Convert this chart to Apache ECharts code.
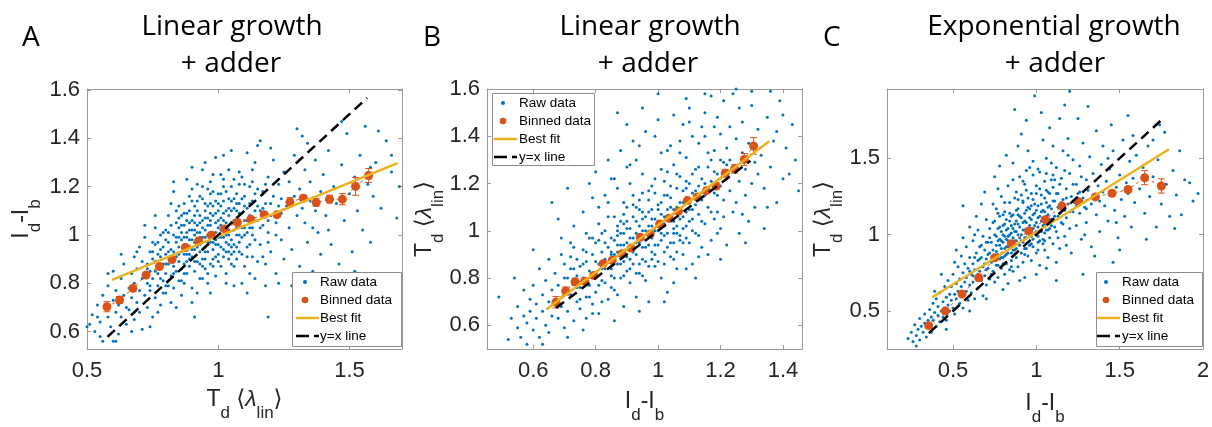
<!DOCTYPE html>
<html><head><meta charset="utf-8">
<script src="https://cdn.jsdelivr.net/npm/echarts@6/dist/echarts.min.js"></script>
<style>html,body{margin:0;padding:0;background:#fff}#c{width:1212px;height:427px}</style>
</head><body><div id="c"></div>
<script>
// ---------- DATA ----------
// Raw data, flat x,y pairs
const rawA = [
0.50,0.62,0.52,0.67,0.53,0.60,0.54,0.71,0.55,0.64,0.56,0.75,0.55,0.58,0.51,0.63,0.54,0.66,0.58,0.84,0.56,0.56,0.61,0.56,
0.57,0.70,0.58,0.66,0.58,0.79,0.59,0.62,0.60,0.73,0.60,0.85,0.61,0.68,0.61,0.77,0.62,0.59,0.62,0.71,0.63,0.82,0.63,0.66,0.64,0.75,0.64,0.88,0.65,0.70,0.65,0.63,0.60,0.56,0.63,0.92,
0.66,0.78,0.66,0.69,0.67,0.84,0.67,0.74,0.68,0.65,0.68,0.91,0.68,0.80,0.69,0.72,0.69,0.86,0.70,0.77,0.70,0.95,0.70,0.68,0.71,0.82,0.71,0.61,0.71,0.89,0.72,0.75,0.72,0.84,0.72,0.99,0.67,0.60,0.69,0.93,0.72,1.04,
0.73,0.80,0.73,0.88,0.73,0.70,0.74,0.93,0.74,0.77,0.74,0.85,0.75,0.66,0.75,0.82,0.75,0.97,0.76,0.89,0.76,0.74,0.76,1.03,0.77,0.84,0.77,0.79,0.77,0.92,0.78,0.71,0.78,0.87,0.78,1.00,0.79,0.81,0.79,0.95,0.79,0.76,0.75,0.90,0.77,0.68,0.78,0.94,0.74,0.62,0.76,1.08,0.79,0.88,
0.80,0.92,0.80,0.84,0.80,1.02,0.80,0.76,0.81,0.88,0.81,0.97,0.81,0.79,0.81,1.08,0.82,0.90,0.82,0.83,0.82,0.94,0.82,0.72,0.83,1.00,0.83,0.87,0.83,0.93,0.83,0.78,0.84,1.05,0.84,0.91,0.84,0.85,0.84,0.97,0.85,0.81,0.85,0.95,0.85,0.89,0.85,1.12,0.86,0.93,0.86,0.86,0.86,1.01,0.86,0.75,0.82,1.13,0.84,0.70,0.80,0.98,0.83,1.18,0.85,1.03,0.86,0.98,0.83,1.22,
0.87,0.96,0.87,0.88,0.87,1.04,0.87,0.80,0.88,0.92,0.88,1.09,0.88,0.99,0.88,0.84,0.89,0.95,0.89,1.02,0.89,0.87,0.89,1.16,0.90,0.91,0.90,0.98,0.90,1.06,0.90,0.78,0.91,0.94,0.91,1.00,0.91,0.85,0.91,1.12,0.92,0.97,0.92,1.04,0.92,0.89,0.92,1.21,0.93,0.93,0.93,1.01,0.93,0.82,0.93,1.08,0.88,1.23,0.90,0.72,0.92,0.76,0.87,1.13,0.89,0.98,0.91,1.05,0.93,0.96,0.90,1.28,0.91,0.66,
0.94,0.99,0.94,1.06,0.94,0.90,0.94,1.15,0.95,0.95,0.95,1.02,0.95,0.86,0.95,1.10,0.96,1.00,0.96,0.93,0.96,1.19,0.96,0.80,0.97,1.04,0.97,0.97,0.97,0.88,0.97,1.13,0.98,1.01,0.98,0.94,0.98,1.25,0.98,1.08,0.99,0.98,0.99,0.91,0.99,1.05,0.99,0.83,1.00,1.03,1.00,0.96,1.00,1.17,1.00,0.89,0.95,1.30,0.97,0.76,0.99,1.32,0.96,1.07,0.98,0.87,1.00,1.10,0.94,0.82,0.97,1.22,0.94,1.27,
1.01,1.02,1.01,0.95,1.01,1.12,1.01,0.87,1.02,1.06,1.02,0.99,1.02,1.20,1.02,0.91,1.03,1.03,1.03,1.10,1.03,0.84,1.03,0.97,1.04,1.08,1.04,1.00,1.04,1.27,1.04,0.93,1.05,1.05,1.05,1.14,1.05,0.88,1.05,0.98,1.06,1.11,1.06,1.02,1.06,0.79,1.06,1.23,1.07,1.07,1.07,0.95,1.07,1.17,1.07,0.90,1.02,1.33,1.05,1.35,1.03,0.80,1.06,0.96,1.04,1.15,1.01,1.25,
1.08,1.04,1.08,1.13,1.08,0.93,1.09,1.09,1.09,0.99,1.09,1.24,1.10,1.06,1.10,0.87,1.10,1.16,1.11,1.01,1.11,1.11,1.11,0.95,1.12,1.08,1.12,1.20,1.12,0.84,1.13,1.03,1.13,1.14,1.13,0.91,1.14,1.10,1.14,0.98,1.14,1.30,1.15,1.06,1.15,0.89,1.15,1.19,1.09,0.80,1.11,1.34,1.13,1.27,1.10,1.00,1.12,1.03,1.15,1.37,1.14,0.82,1.08,1.21,1.11,0.76,
1.16,1.10,1.16,0.96,1.17,1.18,1.17,1.04,1.18,0.88,1.18,1.13,1.19,1.24,1.19,1.01,1.20,1.08,1.20,0.93,1.21,1.16,1.21,1.31,1.22,1.05,1.22,0.84,1.23,1.12,1.23,1.21,1.24,0.98,1.24,1.09,1.25,1.26,1.25,0.90,1.16,1.39,1.18,0.79,1.20,1.36,1.22,1.00,1.24,1.15,1.17,0.91,1.19,1.06,1.23,0.80,1.19,0.66,
1.26,1.12,1.27,1.03,1.27,1.22,1.28,0.94,1.29,1.16,1.29,1.33,1.30,1.08,1.31,0.87,1.31,1.19,1.32,1.41,1.33,1.05,1.33,1.27,1.34,0.97,1.35,1.14,1.35,1.22,1.36,0.85,1.37,1.10,1.37,1.31,1.38,1.01,1.39,1.18,1.39,0.92,1.40,1.25,1.28,0.79,1.30,1.44,1.34,1.38,1.36,1.03,1.32,1.11,1.38,0.76,
1.41,1.08,1.42,1.35,1.43,0.96,1.44,1.20,1.45,1.13,1.46,0.88,1.47,1.29,1.48,1.06,1.49,1.42,1.50,1.17,1.51,0.93,1.52,1.24,1.53,1.10,1.54,1.33,1.55,1.02,1.56,1.45,1.57,1.21,1.58,0.97,1.59,1.16,1.60,1.30,1.62,1.11,1.64,1.39,1.66,1.26,1.68,1.07,1.69,1.20,1.44,0.82,1.52,0.85,1.47,1.47,1.61,1.43,1.66,1.33,1.42,1.02,1.58,1.28,
0.86,1.04,0.87,0.99,0.88,1.06,0.89,0.92,0.90,1.02,0.91,0.97,0.92,1.10,0.93,0.99,0.94,1.03,0.95,0.93,0.96,1.04,0.97,1.00,0.98,1.12,0.99,1.01,1.00,1.06,1.01,0.99,1.02,1.09,1.03,1.05,1.04,0.96,1.05,1.10,1.06,1.06,1.07,1.00,1.08,1.09,1.09,1.03,0.90,0.94,0.92,1.01,0.94,0.97,0.96,1.12,0.98,0.97,1.00,0.92,1.02,1.14,1.04,1.11,1.06,0.93,1.08,1.00,0.88,0.89,0.93,1.16,0.97,1.09,1.01,1.17,1.05,0.92,0.85,0.99,0.87,0.92,0.91,1.08,0.95,1.07,0.99,1.14,1.03,0.93,1.07,1.13,0.89,1.10,0.95,0.99,1.10,1.12,1.12,1.05,
0.73,0.86,0.74,0.79,0.75,0.93,0.76,0.85,0.77,0.97,0.78,0.82,0.79,1.01,0.80,0.88,0.81,0.93,0.82,1.04,0.83,0.84,0.84,0.99,0.85,0.92,0.86,1.08,0.87,0.84,0.88,1.01,0.89,0.90,0.90,1.14,0.91,0.89,0.92,0.95,0.93,1.05,0.94,0.87,0.95,1.13,0.96,0.97,0.97,1.06,0.98,0.90,0.99,1.09,1.00,0.99,1.01,1.07,1.02,0.94,1.03,1.18,1.04,1.02,1.05,0.95,1.06,1.15,1.07,1.03,1.08,0.97,1.09,1.15,1.10,1.03,1.11,0.91,1.12,1.13,1.13,1.00,1.14,1.17,1.15,1.12,1.16,1.03,1.17,1.11,1.18,1.21,1.19,0.97,1.20,1.13,0.81,1.01,0.83,0.90,0.85,1.07,0.87,1.09,0.89,1.05,0.91,1.02,0.93,0.88,0.95,0.90,0.97,1.17,0.99,0.96,1.01,1.04,1.03,1.00,1.05,1.20,1.07,1.10,1.09,0.92,1.11,1.06,1.13,1.22,0.78,0.91,0.80,0.79,0.84,1.10,0.88,0.95,0.92,1.14,0.96,0.84,1.00,1.13,1.04,0.90,1.08,1.26,1.12,0.96,0.76,0.96,0.86,0.81,0.94,1.20,1.02,1.23,1.10,1.21,0.90,1.19,0.98,1.18,1.06,0.87
];
const rawB = [
0.49,0.72,0.52,0.54,0.53,0.63,0.55,0.59,0.55,0.68,0.56,0.55,0.57,0.64,0.57,0.75,0.58,0.61,0.58,0.52,0.54,0.80,
0.59,0.66,0.59,0.71,0.60,0.58,0.60,0.77,0.61,0.63,0.61,0.69,0.62,0.84,0.62,0.55,0.63,0.73,0.63,0.66,0.64,0.60,0.64,0.79,0.65,0.70,0.65,0.88,0.66,0.64,0.66,0.75,0.60,0.92,0.63,0.52,0.65,0.57,0.66,1.12,
0.67,0.71,0.67,0.82,0.68,0.63,0.68,0.77,0.69,0.90,0.69,0.68,0.70,0.74,0.70,0.59,0.70,0.86,0.71,0.80,0.71,0.66,0.72,0.95,0.72,0.73,0.72,0.84,0.73,0.62,0.73,0.78,0.73,1.02,0.74,0.70,0.74,0.88,0.74,0.81,0.68,1.05,0.71,0.55,0.73,0.93,0.69,0.97,0.73,1.28,0.71,1.18,
0.75,0.76,0.75,0.85,0.75,0.67,0.76,0.92,0.76,0.80,0.76,1.08,0.77,0.72,0.77,0.87,0.77,0.63,0.78,0.83,0.78,0.97,0.78,0.77,0.79,0.69,0.79,0.90,0.79,1.14,0.80,0.81,0.80,0.74,0.80,0.95,0.81,0.86,0.81,1.03,0.81,0.65,0.82,0.79,0.82,0.91,0.82,0.84,0.76,0.58,0.78,1.20,0.80,1.25,0.82,0.70,0.77,0.99,0.81,0.96,
0.83,0.88,0.83,0.78,0.83,1.00,0.84,0.93,0.84,0.71,0.84,1.12,0.85,0.84,0.85,0.97,0.85,0.81,0.86,0.90,0.86,1.06,0.86,0.75,0.87,0.94,0.87,0.86,0.87,1.18,0.88,0.99,0.88,0.80,0.88,0.91,0.89,1.03,0.89,0.87,0.89,0.68,0.90,0.95,0.90,1.10,0.90,0.83,0.84,1.30,0.86,0.62,0.88,1.34,0.85,1.22,0.87,0.73,0.89,0.94,0.83,0.95,0.90,1.27,0.90,1.45,0.87,1.50,
0.91,0.92,0.91,1.01,0.91,0.78,0.92,0.97,0.92,1.15,0.92,0.86,0.93,1.04,0.93,0.90,0.93,0.72,0.94,0.95,0.94,1.09,0.94,0.82,0.95,1.00,0.95,0.88,0.95,1.24,0.96,1.06,0.96,0.93,0.96,0.79,0.97,0.98,0.97,1.13,0.97,0.85,0.98,1.02,0.98,0.91,0.98,1.19,0.92,1.38,0.94,0.66,0.96,1.42,0.93,1.30,0.97,0.70,0.95,1.05,0.91,1.20,0.98,0.97,0.95,1.52,
0.99,1.05,0.99,0.94,0.99,1.16,1.00,1.00,1.00,0.87,1.00,1.11,1.01,1.07,1.01,0.96,1.01,0.80,1.02,1.03,1.02,1.21,1.02,0.91,1.03,1.09,1.03,0.99,1.03,0.74,1.04,1.14,1.04,1.04,1.04,0.89,1.05,1.01,1.05,1.28,1.05,0.95,1.06,1.10,1.06,0.84,1.06,1.18,1.00,1.47,1.02,0.70,1.04,1.36,1.01,1.33,1.03,1.25,1.05,0.78,0.99,1.40,1.06,1.02,1.00,1.58,1.05,1.49,
1.07,1.12,1.07,0.98,1.07,1.23,1.08,1.06,1.08,0.90,1.08,1.17,1.09,1.14,1.09,1.02,1.09,1.31,1.10,1.09,1.10,0.95,1.10,1.20,1.11,1.05,1.11,1.16,1.11,0.86,1.12,1.26,1.12,1.11,1.12,0.99,1.13,1.19,1.13,1.07,1.13,1.37,1.14,1.13,1.14,0.93,1.14,1.22,1.08,1.45,1.10,1.52,1.12,0.80,1.14,1.44,1.09,0.84,1.11,1.40,1.13,0.89,1.07,1.33,1.09,1.56,
1.15,1.15,1.15,1.03,1.16,1.27,1.16,1.10,1.17,0.96,1.17,1.21,1.18,1.16,1.18,1.34,1.19,1.08,1.19,1.24,1.20,1.01,1.20,1.19,1.20,1.41,1.21,1.13,1.21,1.29,1.22,0.94,1.22,1.22,1.15,1.50,1.17,1.57,1.19,1.48,1.21,1.55,1.16,0.90,1.18,1.05,1.22,1.35,1.20,0.88,1.15,1.58,
1.23,1.17,1.23,1.30,1.24,1.08,1.24,1.25,1.25,1.39,1.25,1.12,1.26,1.21,1.26,0.99,1.27,1.33,1.27,1.46,1.28,1.15,1.28,1.26,1.29,1.04,1.29,1.37,1.30,1.20,1.30,1.53,1.31,1.29,1.31,1.10,1.32,1.43,1.32,1.24,1.24,1.58,1.26,1.52,1.28,0.95,1.30,1.59,1.23,1.44,1.27,1.07,1.25,1.60,
1.33,1.32,1.34,1.18,1.35,1.48,1.36,1.27,1.37,1.38,1.38,1.12,1.39,1.55,1.40,1.22,1.41,1.35,1.42,1.24,1.43,1.45,1.44,1.30,1.34,1.01,1.36,1.59,1.38,1.42,1.45,1.17,1.35,1.10,1.40,1.49,
0.86,0.96,0.87,0.91,0.88,1.04,0.89,0.99,0.90,0.89,0.91,0.97,0.92,1.06,0.93,0.95,0.94,1.02,0.95,0.93,0.96,1.00,0.97,1.08,0.98,0.88,0.99,1.00,1.00,1.04,1.01,1.12,1.02,0.98,1.03,1.05,1.04,0.95,1.05,1.09,1.06,0.99,1.07,1.05,1.08,1.12,1.09,0.97,0.88,0.86,0.90,1.01,0.92,0.91,0.94,1.13,0.96,0.87,0.98,1.09,1.00,0.94,1.02,1.06,1.04,1.19,1.06,0.91,1.08,1.01,0.85,0.90,0.93,1.10,0.97,0.94,1.01,1.02,1.05,0.99,0.89,1.07,0.95,1.16,0.99,0.90,1.03,1.15,1.07,0.96,1.10,1.04,0.87,1.02,0.91,0.84,1.09,1.18,1.11,1.09,
0.70,0.80,0.72,0.89,0.74,0.76,0.76,0.86,0.78,0.72,0.79,0.97,0.80,0.87,0.81,0.77,0.82,0.99,0.83,0.84,0.84,1.06,0.85,0.91,0.86,0.80,0.87,1.00,0.88,0.94,0.89,0.81,0.90,1.04,0.91,0.88,0.92,1.11,0.93,0.99,0.94,0.86,0.95,1.08,0.96,0.96,0.97,1.17,0.98,1.05,0.99,0.85,1.00,1.09,1.01,0.99,1.02,1.15,1.03,0.93,1.04,1.10,1.05,1.04,1.06,1.24,1.07,1.08,1.08,0.95,1.09,1.21,1.10,1.13,1.11,1.00,1.12,1.17,1.13,1.27,1.14,1.04,1.15,1.20,1.16,1.33,1.17,1.08,1.18,1.25,1.19,1.15,1.20,1.30,1.21,1.06,1.22,1.28,0.77,0.91,0.81,1.10,0.85,0.76,0.89,1.12,0.93,0.82,0.97,1.02,1.01,1.26,1.05,0.88,1.09,1.08,1.13,0.98,1.17,1.30,0.75,0.71,0.83,1.15,0.91,1.28,0.99,1.22,1.07,1.38,1.15,1.40,0.87,0.98,0.95,0.81,1.03,1.34,1.11,1.24,1.19,0.99,0.73,0.84,0.79,0.65,0.86,1.22,0.94,1.36,1.02,0.86,1.10,1.46,1.18,1.44
];
const rawC = [
0.23,0.32,0.25,0.36,0.26,0.30,0.27,0.41,0.28,0.34,0.29,0.38,0.30,0.45,0.30,0.31,0.31,0.40,0.32,0.36,0.33,0.48,0.33,0.42,0.34,0.33,0.35,0.44,0.35,0.39,0.28,0.27,
0.36,0.51,0.36,0.41,0.37,0.46,0.37,0.36,0.38,0.55,0.38,0.44,0.39,0.49,0.40,0.40,0.40,0.58,0.41,0.47,0.41,0.53,0.42,0.43,0.42,0.62,0.43,0.50,0.44,0.56,0.44,0.46,0.45,0.66,0.45,0.52,0.46,0.59,0.46,0.44,0.47,0.54,0.47,0.70,0.48,0.50,0.48,0.61,0.39,0.63,0.43,0.74,0.46,0.38,
0.49,0.57,0.49,0.66,0.50,0.52,0.50,0.74,0.51,0.61,0.51,0.48,0.52,0.68,0.52,0.58,0.53,0.79,0.53,0.63,0.54,0.55,0.54,0.71,0.55,0.66,0.55,0.86,0.55,0.60,0.56,0.75,0.56,0.52,0.57,0.69,0.57,0.81,0.58,0.63,0.58,0.92,0.58,0.72,0.59,0.57,0.59,0.78,0.60,0.67,0.60,0.85,0.52,0.90,0.56,0.98,0.60,0.50,0.51,0.82,0.56,1.19,0.60,1.05,
0.61,0.74,0.61,0.62,0.62,0.81,0.62,0.69,0.62,0.96,0.63,0.58,0.63,0.77,0.64,0.88,0.64,0.72,0.65,0.65,0.65,0.83,0.65,1.03,0.66,0.76,0.66,0.92,0.67,0.70,0.67,0.85,0.68,0.60,0.68,0.99,0.68,0.79,0.69,0.90,0.69,0.73,0.70,0.84,0.70,1.10,0.70,0.67,0.71,0.95,0.71,0.78,0.72,0.88,0.72,1.04,0.72,0.71,0.64,1.12,0.67,1.20,0.70,0.58,0.63,1.00,0.69,1.28,
0.73,0.82,0.73,0.95,0.74,0.76,0.74,1.08,0.74,0.90,0.75,0.86,0.75,0.69,0.75,1.00,0.76,0.93,0.76,1.17,0.76,0.80,0.77,0.87,0.77,1.04,0.77,0.72,0.78,0.97,0.78,0.84,0.78,1.12,0.79,0.91,0.79,0.78,0.79,1.25,0.80,0.95,0.80,1.06,0.80,0.85,0.81,0.99,0.81,0.74,0.81,1.15,0.82,0.92,0.82,1.03,0.82,0.81,0.83,0.96,0.83,1.32,0.83,0.88,0.84,1.09,0.84,0.77,0.84,1.00,0.75,1.38,0.78,1.45,0.80,0.64,0.82,1.52,0.77,1.30,0.83,0.68,0.79,1.02,
0.85,0.94,0.85,1.06,0.85,0.83,0.86,1.13,0.86,0.98,0.86,0.76,0.87,0.90,0.87,1.02,0.87,1.24,0.88,0.96,0.88,1.09,0.88,0.85,0.89,1.00,0.89,1.17,0.89,0.79,0.90,0.93,0.90,1.05,0.90,1.38,0.91,0.88,0.91,1.11,0.91,1.00,0.92,1.21,0.92,0.95,0.92,0.82,0.93,1.03,0.93,1.14,0.93,0.91,0.94,1.08,0.94,0.98,0.94,1.29,0.95,0.86,0.95,1.01,0.95,1.18,0.96,1.06,0.96,0.93,0.96,1.44,0.87,1.82,0.89,1.58,0.91,1.66,0.93,0.72,0.95,1.55,0.86,1.47,0.90,0.70,0.94,1.75,0.92,1.35,0.88,1.28,
0.97,1.10,0.97,0.99,0.97,0.83,0.98,1.04,0.98,1.23,0.98,0.92,0.99,1.14,0.99,1.01,0.99,1.91,1.00,1.08,1.00,0.88,1.00,1.32,1.01,1.05,1.01,1.19,1.01,0.95,1.02,1.12,1.02,0.80,1.02,1.41,1.03,1.02,1.03,1.26,1.03,1.09,1.04,0.97,1.04,1.16,1.04,1.62,1.05,1.07,1.05,1.35,1.05,0.90,1.06,1.21,1.06,1.03,1.06,1.50,1.07,1.13,1.07,0.85,1.07,1.28,1.08,1.10,1.08,0.98,1.08,1.70,1.00,0.74,1.03,1.80,1.06,0.78,0.98,1.48,
1.09,1.17,1.09,1.06,1.10,1.31,1.10,0.94,1.11,1.22,1.11,1.12,1.12,1.02,1.12,1.44,1.13,1.18,1.13,1.27,1.14,0.91,1.14,1.14,1.15,1.37,1.15,1.08,1.16,1.23,1.16,1.55,1.17,1.16,1.17,0.99,1.18,1.30,1.18,1.11,1.19,1.20,1.19,1.63,1.20,1.04,1.20,1.40,1.21,1.25,1.21,0.88,1.22,1.15,1.22,1.49,1.20,1.94,1.14,1.76,1.17,1.85,1.10,1.58,1.12,0.82,1.18,0.93,1.11,1.36,1.12,0.70,
1.23,1.21,1.24,1.33,1.24,1.06,1.25,1.27,1.26,1.14,1.26,1.45,1.27,0.97,1.28,1.24,1.28,1.60,1.29,1.18,1.30,1.36,1.30,1.08,1.31,1.29,1.32,1.51,1.33,1.20,1.33,0.92,1.34,1.40,1.35,1.26,1.36,1.13,1.36,1.68,1.37,1.32,1.38,1.22,1.38,1.02,1.39,1.46,1.40,1.28,1.25,1.76,1.31,1.84,1.27,1.38,1.35,0.86,1.29,1.00,1.40,1.58,1.28,0.74,
1.41,1.19,1.42,1.35,1.43,1.09,1.44,1.43,1.45,1.26,1.46,1.55,1.47,1.16,1.48,1.31,1.49,0.98,1.50,1.39,1.51,1.23,1.52,1.62,1.53,1.12,1.54,1.34,1.55,1.27,1.56,1.48,1.57,1.05,1.58,1.37,1.59,1.21,1.60,1.52,1.45,1.72,1.50,0.90,1.55,1.78,1.43,1.50,1.58,1.65,1.48,1.08,1.46,0.82,
1.62,1.30,1.64,1.44,1.65,1.14,1.67,1.58,1.68,1.25,1.70,1.38,1.72,1.05,1.73,1.49,1.75,1.20,1.77,1.67,1.78,1.33,1.80,1.12,1.82,1.42,1.84,1.26,1.86,1.55,1.87,1.13,1.89,1.36,1.92,1.34,1.94,1.22,1.97,1.27,1.66,0.97,1.74,1.72,1.83,1.04,1.70,1.62,
0.76,0.89,0.78,0.93,0.79,0.85,0.80,1.00,0.81,0.91,0.82,0.97,0.83,1.04,0.84,0.93,0.85,1.01,0.86,0.90,0.87,1.07,0.88,1.02,0.89,0.94,0.90,1.12,0.91,0.96,0.92,1.08,0.93,0.98,0.94,1.16,0.95,0.95,0.96,1.11,0.97,1.04,0.98,0.97,0.99,1.20,1.00,1.02,1.01,1.11,1.02,0.96,1.03,1.15,1.04,1.06,1.05,1.24,1.06,1.12,1.07,1.03,1.08,1.19,1.09,1.10,0.77,0.96,0.81,1.07,0.85,0.88,0.89,1.13,0.93,0.87,0.97,1.19,1.01,0.90,1.05,1.15,0.80,0.81,0.84,1.14,0.88,0.91,0.92,1.22,0.96,1.00,1.00,1.27,1.04,0.94,1.08,1.27,0.83,0.99,
0.60,0.76,0.63,0.85,0.65,0.74,0.67,0.93,0.69,0.81,0.71,0.87,0.72,0.98,0.74,0.83,0.75,1.09,0.76,0.99,0.77,0.80,0.78,1.05,0.79,0.96,0.80,1.13,0.81,0.86,0.82,1.10,0.83,0.92,0.84,1.21,0.85,1.12,0.86,1.04,0.87,0.96,0.88,1.16,0.89,1.07,0.90,0.98,0.91,1.26,0.92,1.03,0.93,1.09,0.94,0.91,0.95,1.24,0.96,1.17,0.97,0.94,0.98,1.13,0.99,1.06,1.00,1.16,1.01,0.99,1.02,1.30,1.03,1.20,1.04,1.11,1.05,1.01,1.06,1.29,1.07,1.18,1.08,1.04,1.09,1.36,1.10,1.22,1.11,1.05,1.12,1.27,1.13,1.12,1.14,1.33,1.15,1.21,1.16,1.07,1.17,1.42,1.18,1.24,1.20,1.15,1.22,1.33,1.24,1.19,1.26,1.28,0.66,0.84,0.70,0.95,0.73,0.74,0.77,1.14,0.81,1.21,0.85,0.79,0.89,1.23,0.93,1.33,0.97,1.27,1.01,1.43,1.05,0.96,1.09,1.47,0.62,0.73,0.74,1.20,0.86,1.36,0.98,1.39,1.10,1.39,1.13,0.98,1.19,1.52,0.70,0.77,0.82,0.87,0.94,1.42,1.06,1.40,1.30,1.17
];

// Binned data (x, mean y, error half-height)
const binAx = [0.576,0.624,0.675,0.725,0.776,0.824,0.875,0.925,0.973,1.024,1.073,1.124,1.175,1.224,1.273,1.324,1.373,1.424,1.473,1.523,1.573];
const binAy = [0.703,0.731,0.779,0.834,0.869,0.898,0.948,0.975,0.999,1.025,1.052,1.065,1.084,1.084,1.137,1.152,1.134,1.148,1.148,1.201,1.246];
const binAe = [0.021,0.014,0.011,0.010,0.009,0.008,0.008,0.007,0.007,0.007,0.007,0.008,0.009,0.010,0.017,0.013,0.015,0.016,0.023,0.037,0.029];

const binBx = [0.673,0.704,0.734,0.765,0.794,0.824,0.853,0.884,0.914,0.943,0.975,1.005,1.035,1.065,1.094,1.125,1.155,1.186,1.215,1.245,1.276,1.306];
const binBy = [0.698,0.745,0.784,0.787,0.811,0.861,0.875,0.903,0.927,0.973,0.987,1.029,1.053,1.083,1.128,1.143,1.170,1.189,1.244,1.262,1.302,1.359];
const binBe = [0.024,0.017,0.015,0.012,0.011,0.010,0.009,0.009,0.008,0.008,0.008,0.008,0.008,0.009,0.009,0.010,0.011,0.014,0.016,0.018,0.025,0.035];

const binCx = [0.354,0.454,0.554,0.654,0.750,0.850,0.954,1.054,1.154,1.254,1.354,1.454,1.550,1.650,1.750];
const binCy = [0.404,0.500,0.611,0.718,0.849,0.941,1.024,1.098,1.188,1.216,1.247,1.271,1.295,1.373,1.319];
const binCe = [0.012,0.010,0.009,0.008,0.008,0.008,0.008,0.009,0.010,0.012,0.014,0.017,0.020,0.046,0.047];

// Best-fit and y=x line end points
const fitA = [[0.595,0.814],[1.683,1.297]];
const yxA  = [[0.578,0.578],[1.567,1.567]];
const fitB = [[0.642,0.667],[1.356,1.379]];
const yxB  = [[0.673,0.673],[1.296,1.296]];
const fitC = [[0.376,0.590],[1.796,1.559]];
const yxC  = [[0.355,0.355],[1.752,1.752]];

// Tick values
const ticksAx = [0.5,1,1.5];
const ticksAy = [0.6,0.8,1,1.2,1.4,1.6];
const ticksBx = [0.6,0.8,1,1.2,1.4];
const ticksBy = [0.6,0.8,1,1.2,1.4,1.6];
const ticksCx = [0.5,1,1.5,2];
const ticksCy = [0.5,1,1.5];

const panelLetters = ['A','B','C'];
const titles1 = ['Linear growth','Linear growth','Exponential growth'];
const titles2 = ['+ adder','+ adder','+ adder'];
const legendNames = ['Raw data','Binned data','Best fit','y=x line'];

// ---------- BUILD ----------
const C_RAW='#0072BD', C_BIN='#D95319', C_FIT='#EDB120', C_AX='#9a9a9a', C_TXT='#262626';
const NAME_T = '{m|T}{s|d}{m| }{b|⟨}{l|λ}{s|lin}{b|⟩}';
const NAME_I = '{m|I}{s|d}{m|-I}{s|b}';
const rich = {
  m:{fontSize:23,fontFamily:'Liberation Sans',lineHeight:44,color:C_TXT},
  s:{fontSize:17,fontFamily:'Liberation Sans',lineHeight:17,verticalAlign:'bottom',color:C_TXT},
  b:{fontSize:23,fontFamily:'DejaVu Sans',lineHeight:44,color:C_TXT},
  l:{fontSize:23,fontFamily:'Liberation Sans',fontStyle:'italic',lineHeight:44,color:C_TXT}
};
function pairs(flat){const o=[];for(let i=0;i<flat.length;i+=2)o.push([flat[i],flat[i+1]]);return o;}
const fmt = v => String(parseFloat((+v).toFixed(3)));

const panels = [
  {raw:rawA,bx:binAx,by:binAy,be:binAe,fit:fitA,yx:yxA,xr:[0.5,1.7],yr:[0.528,1.604],xt:ticksAx,yt:ticksAy,
   grid:{left:87,top:89,width:315,height:260},xname:NAME_T,yname:NAME_I,xgap:29,ygap:43,
   leg:{x:292,y:272,w:109,h:74,ix:296,tx:320}, lt:{x:22}, t1:232, t2:231},
  {raw:rawB,bx:binBx,by:binBy,be:binBe,fit:fitB,yx:yxB,xr:[0.452,1.461],yr:[0.5,1.6],xt:ticksBx,yt:ticksBy,
   grid:{left:487,top:89,width:315,height:260},xname:NAME_I,yname:NAME_T,xgap:31,ygap:40,
   leg:{x:492,y:93,w:102,h:72,ix:494,tx:519}, lt:{x:423}, t1:650, t2:648},
  {raw:rawC,bx:binCx,by:binCy,be:binCe,fit:fitC,yx:yxC,xr:[0.104,2.0],yr:[0.251,1.954],xt:ticksCx,yt:ticksCy,
   grid:{left:887,top:89,width:316,height:260},xname:NAME_I,yname:NAME_T,xgap:33,ygap:41,
   leg:{x:1096,y:272,w:106,h:74,ix:1097,tx:1122}, lt:{x:823}, t1:1054, t2:1055}
];

const grid=[], xAxis=[], yAxis=[], series=[], graphic=[];
panels.forEach((p,g)=>{
  grid.push(Object.assign({show:false,outerBoundsMode:'none',containLabel:false},p.grid));
  const line={show:true,onZero:false,lineStyle:{color:C_AX,width:1}};
  const lab={color:C_TXT,fontSize:22,fontFamily:'Liberation Sans',formatter:fmt};
  xAxis.push({type:'value',gridIndex:g,min:p.xr[0],max:p.xr[1],position:'bottom',axisLine:line,
    axisTick:{show:true,inside:true,length:4,customValues:p.xt,lineStyle:{color:C_AX}},
    axisLabel:Object.assign({show:true,margin:11,customValues:p.xt},lab),splitLine:{show:false},
    name:p.xname,nameLocation:'middle',nameGap:p.xgap,nameMoveOverlap:false,nameTextStyle:{rich}});
  xAxis.push({type:'value',gridIndex:g,min:p.xr[0],max:p.xr[1],position:'top',axisLine:line,
    axisTick:{show:true,inside:true,length:4,customValues:p.xt,lineStyle:{color:C_AX}},
    axisLabel:{show:false},splitLine:{show:false}});
  yAxis.push({type:'value',gridIndex:g,min:p.yr[0],max:p.yr[1],position:'left',axisLine:line,
    axisTick:{show:true,inside:true,length:4,customValues:p.yt,lineStyle:{color:C_AX}},
    axisLabel:Object.assign({show:true,margin:7,customValues:p.yt},lab),splitLine:{show:false},
    name:p.yname,nameLocation:'middle',nameGap:p.ygap,nameMoveOverlap:false,nameTextStyle:{rich}});
  yAxis.push({type:'value',gridIndex:g,min:p.yr[0],max:p.yr[1],position:'right',axisLine:line,
    axisTick:{show:true,inside:true,length:4,customValues:p.yt,lineStyle:{color:C_AX}},
    axisLabel:{show:false},splitLine:{show:false}});
  const xi=2*g, yi=2*g;
  series.push({type:'scatter',xAxisIndex:xi,yAxisIndex:yi,data:pairs(p.raw),symbol:'circle',symbolSize:3,
    itemStyle:{color:C_RAW,opacity:1},silent:true,z:1});
  series.push({type:'line',xAxisIndex:xi,yAxisIndex:yi,data:p.bx.map((x,i)=>[x,p.by[i]]),symbol:'circle',symbolSize:9,
    showAllSymbol:true,lineStyle:{color:C_BIN,width:1,type:[3,3]},itemStyle:{color:C_BIN},silent:true,z:3});
  series.push({type:'custom',xAxisIndex:xi,yAxisIndex:yi,silent:true,z:3,
    data:p.bx.map((x,i)=>[x,p.by[i]-p.be[i],p.by[i]+p.be[i]]),encode:{x:0,y:[1,2]},
    renderItem:(params,api)=>{
      const x=api.value(0), lo=api.coord([x,api.value(1)]), hi=api.coord([x,api.value(2)]), w=3.5;
      const st={stroke:C_BIN,lineWidth:1};
      return {type:'group',children:[
        {type:'line',shape:{x1:lo[0],y1:lo[1],x2:hi[0],y2:hi[1]},style:st},
        {type:'line',shape:{x1:lo[0]-w,y1:lo[1],x2:lo[0]+w,y2:lo[1]},style:st},
        {type:'line',shape:{x1:hi[0]-w,y1:hi[1],x2:hi[0]+w,y2:hi[1]},style:st}]};
    }});
  series.push({type:'line',xAxisIndex:xi,yAxisIndex:yi,data:p.fit,symbol:'none',lineStyle:{color:C_FIT,width:2.5},silent:true,z:4});
  series.push({type:'line',xAxisIndex:xi,yAxisIndex:yi,data:p.yx,symbol:'none',lineStyle:{color:'#000',width:2.5,type:[10,6]},silent:true,z:5});

  // titles
  graphic.push({type:'text',x:p.lt.x,y:38,z:100,style:{text:panelLetters[g],fontSize:28,fontFamily:'Open Sans',fill:'#000',verticalAlign:'middle'}});
  graphic.push({type:'text',x:p.t1,y:27,z:100,style:{text:titles1[g],fontSize:28,fontFamily:'Open Sans',fill:'#000',align:'center',verticalAlign:'middle'}});
  graphic.push({type:'text',x:p.t2,y:64,z:100,style:{text:titles2[g],fontSize:28,fontFamily:'Open Sans',fill:'#000',align:'center',verticalAlign:'middle'}});

  // legend box
  const L=p.leg, rows=[L.y+10,L.y+28,L.y+46,L.y+64], ic=L.ix+9, tf={fontSize:13.5,fontFamily:'Liberation Sans',fill:'#000',verticalAlign:'middle'};
  graphic.push({type:'rect',z:100,shape:{x:L.x+0.5,y:L.y+0.5,width:L.w,height:L.h},style:{fill:'#fff',stroke:'#8c8c8c',lineWidth:1}});
  graphic.push({type:'circle',z:101,shape:{cx:ic,cy:rows[0],r:2},style:{fill:C_RAW}});
  graphic.push({type:'circle',z:101,shape:{cx:ic,cy:rows[1],r:3.3},style:{fill:C_BIN}});
  graphic.push({type:'line',z:101,shape:{x1:L.ix,y1:rows[2],x2:L.ix+23,y2:rows[2]},style:{stroke:C_FIT,lineWidth:2.5}});
  graphic.push({type:'line',z:101,shape:{x1:L.ix,y1:rows[3],x2:L.ix+23,y2:rows[3]},style:{stroke:'#000',lineWidth:2.5,lineDash:[13,5]}});
  legendNames.forEach((n,i)=>graphic.push({type:'text',z:101,x:L.tx,y:rows[i],style:Object.assign({text:n},tf)}));
});

const chart = echarts.init(document.getElementById('c'),null,{renderer:'canvas'});
chart.setOption({animation:false,backgroundColor:'#fff',grid,xAxis,yAxis,series,graphic});
</script></body></html>
